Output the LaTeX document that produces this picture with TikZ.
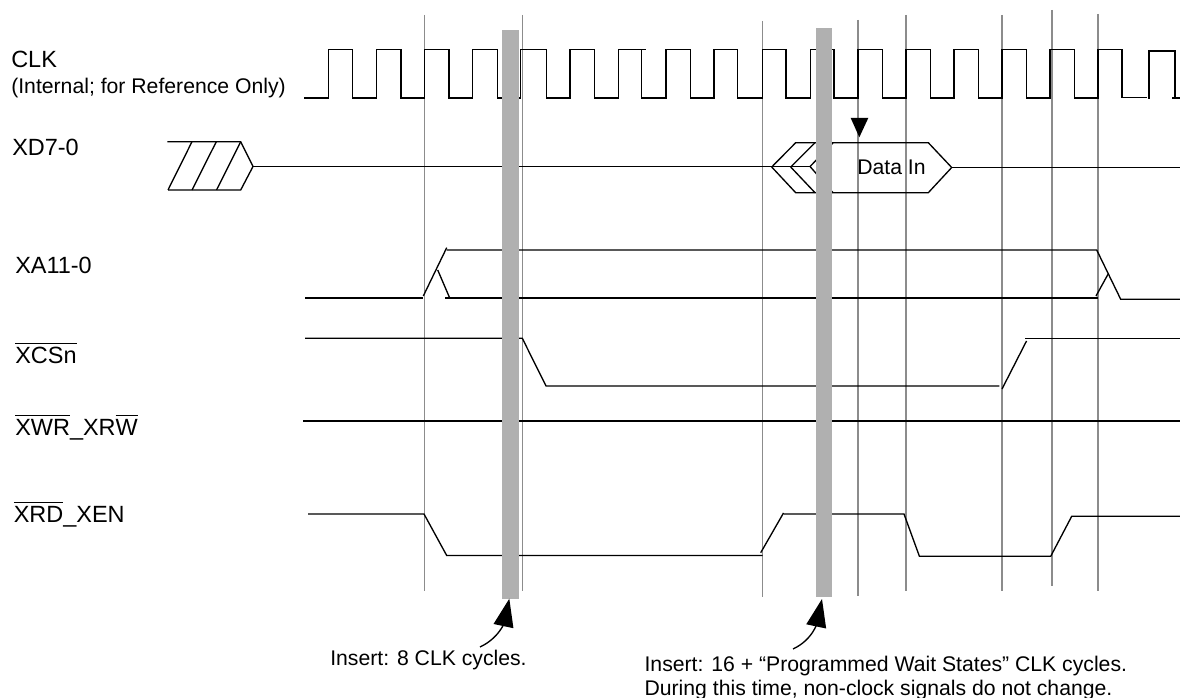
\documentclass[tikz,border=0pt]{standalone}
\usepackage{fontspec}
\setmainfont{Liberation Sans}
\usetikzlibrary{arrows.meta}
\newcommand{\ovl}[1]{\vbox{\hrule height 0.6pt\kern 2.6pt\hbox{#1}}}
\tikzset{
	signal/.style={line width=1pt,black},
	guide/.style={line width=0.95pt,color=guidegray},
	insertbar/.style={fill=bargray},
	siglabel/.style={anchor=base west,inner sep=0pt,font=\fontsize{17.6pt}{21pt}\selectfont},
	note/.style={anchor=base west,inner sep=0pt,align=left,font=\fontsize{15.9pt}{17.5pt}\selectfont},
	pointer/.style={-{Triangle[length=21pt,width=15pt]},line width=1pt},
}
\definecolor{guidegray}{HTML}{8C8C8C}
\definecolor{bargray}{HTML}{B0B0B0}
\begin{document}
\begin{tikzpicture}[x=0.75pt,y=-0.75pt]
	\useasboundingbox (0,0) rectangle (1180,698);

	% cycle markers
	\draw [guide] (424.7,15)--(424.7,591);
	\draw [guide] (522.7,15)--(522.7,591);
	\draw [guide] (762.7,21)--(762.7,597);
	\draw [guide] (858,20)--(858,596);
	\draw [guide] (906,15)--(906,591);
	\draw [guide] (1002,15)--(1002,591);
	\draw [guide] (1052,10)--(1052,586);
	\draw [guide] (1098,14)--(1098,591);

	% CLK
	\draw [signal] (304,98) -| (328.7,49.5) -| (352.7,98) -| (376.7,49.5) -| (401,98) -| (424.7,49.5) -| (449,98)
		-| (472.7,49.5) -| (497.3,98) -| (520.7,49.5) -| (546.7,98) -| (570,49.5) -| (594.3,98) -| (618.3,49.5) -| (641.7,98)
		-| (666,49.5) -| (690.7,98) -| (714,49.5) -| (737.7,98) -| (762.7,49.5) -| (786,98) -| (810.7,49.5) -| (834,98)
		-| (858,49.5) -| (882.3,98) -| (906,49.5) -| (930.7,98) -| (954,49.5) -| (978.7,98) -| (1002,49.5) -| (1026.7,98)
		-| (1050,49.5) -| (1074.7,98) -| (1098,49.5) -| (1122,97.7) -- (1147,97.7);
	\draw [signal] (641.7,49.5)--(645.7,49.5);
	\draw [signal] (1149,99)--(1149,51)--(1175,51)--(1175,99);
	\draw [signal] (1172,98)--(1180,98);

	% XD7-0
	\draw [signal] (167.3,141.7)--(240.7,141.7)--(253,166.5)--(240.7,190)--(168,190);
	\draw [signal] (192,141.7)--(168,190);
	\draw [signal] (216.3,141.7)--(192,190);
	\draw [signal] (240.7,141.7)--(216.5,190);
	\draw [signal] (253,166.5)--(810,166.5);
	\draw [signal] (833,143)--(810,166.5)--(833,192.7);
	\draw [signal] (815,142.7)--(790.7,167)--(815,192.7);
	\draw [signal] (771.7,167)--(795.7,142.7)--(928.3,142.7)--(951.7,167.5)--(928.3,192.7)--(795.7,192.7)--cycle;
	\draw [signal] (951.7,167.5)--(1180,167.5);
	\fill (850.7,118)--(868.3,118)--(859.3,137.3)--cycle;

	% XA11-0
	\draw [signal] (305,298)--(423.3,298);
	\draw [signal] (423.3,296)--(446.7,247.7);
	\draw [signal] (446.7,250)--(1096.7,250)--(1120.7,299.3)--(1180,299.3);
	\draw [signal] (437.7,270)--(449.7,298);
	\draw [signal] (445,298)--(1098,298);
	\draw [signal] (1096,296)--(1108.3,273.7);

	% XCSn
	\draw [signal] (305,338.3)--(522.3,338.3)--(546,386)--(999.3,386);
	\draw [signal] (1002,389)--(1026.5,341);
	\draw [signal] (1025,338.3)--(1180,338.3);

	% XWR_XRW
	\draw [signal] (303,421)--(1180,421);

	% XRD_XEN
	\draw [signal] (308,514)--(424,514)--(446.7,555.5)--(762.7,555.5);
	\draw [signal] (760.7,552.7)--(783.5,513);
	\draw [signal] (783.5,514)--(904,514)--(919.4,556.3)--(1050.7,556.3)--(1071.7,516.3)--(1180,516.3);

	% inserted cycles
	\fill [insertbar] (502,30) rectangle (519,598.7);
	\fill [insertbar] (816,28) rectangle (832,596.7);

	% labels
	\node [siglabel] (clklabel) at (11,67.3) {CLK};
	\node [note] (clknote) at (11,94) {(Internal; for Reference Only)};
	\node [siglabel] (xdlabel) at (12,156) {XD7-0};
	\node [note] (datain) at (857,175) {Data In};
	\node [siglabel] (xalabel) at (15,274) {XA11-0};
	\node [siglabel] (xcslabel) at (15,363.3) {\ovl{XCSn}};
	\node [siglabel] (xwrlabel) at (15,435) {\ovl{XWR}\_XR\ovl{W}};
	\node [siglabel] (xrdlabel) at (13.5,522.7) {\ovl{XRD}\_XEN};

	% insert notes
	\node [note] (insertone) at (330,665) {Insert: 8 CLK cycles.};
	\node [note] (inserttwo) at (644.3,695) {Insert: 16 + “Programmed Wait States” CLK cycles.\\During this time, non-clock signals do not change.};

	\coordinate (tailone) at (480,647);
	\coordinate (tipone) at (509.3,598.7);
	\coordinate (tailtwo) at (793,649);
	\coordinate (tiptwo) at (822,599);
	\draw [pointer] (tailone) to [out=25,in=-102] (tipone);
	\draw [pointer] (tailtwo) to [out=25,in=-102] (tiptwo);
\end{tikzpicture}
\end{document}
